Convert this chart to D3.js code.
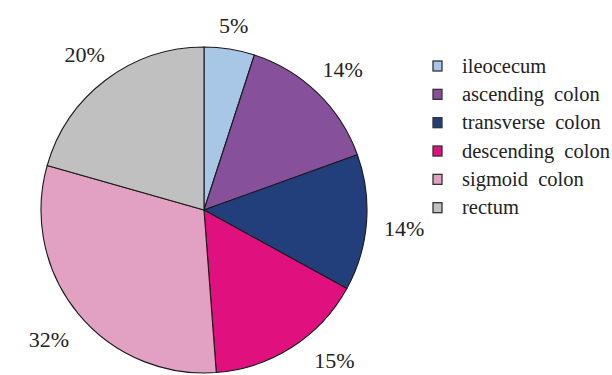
<!DOCTYPE html>
<html>
<head>
<meta charset="utf-8">
<script src="https://cdn.jsdelivr.net/npm/d3@7"></script>
<style>
  body { margin: 0; background: #fff; }
  svg { display: block; }
</style>
</head>
<body>
<div id="chart"></div>
<script>
// segment names (legend order = slice order, clockwise from 12 o'clock)
const segments = ["ileocecum", "ascending colon", "transverse colon", "descending colon", "sigmoid colon", "rectum"];
// slice sizes as drawn in the picture (percent)
const shares = [5.0, 14.5, 13.5, 15.8, 30.6, 20.6];
// printed labels
const pctLabels = ["5%", "14%", "14%", "15%", "32%", "20%"];
const colors = ["#a8c7e7", "#86509b", "#223f7b", "#e0117f", "#e2a1c3", "#c0c0c0"];

var width = 612, height = 375;
var cx = 204, cy = 210, radius = 163;
var serif = "Liberation Serif";

var svg = d3.select("#chart")
    .append("svg")
    .attr("width", width)
    .attr("height", height)
    .attr("font-family", serif);

var data = segments.map((s, i) => ({name: s, value: shares[i], label: pctLabels[i], color: colors[i]}));

var pie = d3.pie()
    .sort(null)
    .value(d => d.value);

var arc = d3.arc()
    .innerRadius(0)
    .outerRadius(radius);

var arcs = pie(data);

var g = svg.append("g")
    .attr("transform", "translate(" + cx + "," + cy + ")");

g.selectAll("path")
    .data(arcs)
    .enter()
    .append("path")
    .attr("d", arc)
    .attr("fill", d => d.data.color)
    .attr("stroke", "#1a1a1a")
    .attr("stroke-width", 1.1)
    .attr("stroke-linejoin", "round");

// labels outside, box edge kept at a fixed gap from the rim
var fontSize = 22, gap = 17;
var maxY = height - cy - 17;
g.selectAll("text.pct")
    .data(arcs)
    .enter()
    .append("text")
    .attr("class", "pct")
    .attr("font-size", fontSize)
    .attr("fill", "#222")
    .attr("text-anchor", "middle")
    .attr("dominant-baseline", "central")
    .text(d => d.data.label)
    .each(function(d) {
        var a = (d.startAngle + d.endAngle) / 2;
        var w = this.getComputedTextLength();
        var h = fontSize * 0.68;
        var r = radius + gap + Math.abs(Math.sin(a)) * w / 2 + Math.abs(Math.cos(a)) * h / 2;
        var x = Math.sin(a) * r, y = -Math.cos(a) * r;
        // keep inside the bottom edge by sliding along the label circle
        if (y > maxY) {
            y = maxY;
            x = Math.sign(x) * Math.sqrt(r * r - y * y);
        }
        d3.select(this)
            .attr("x", x)
            .attr("y", y + 2.5);
    });

// legend
var legendY = d3.scalePoint()
    .domain(segments)
    .range([66, 207.7]);

var legend = svg.append("g")
    .selectAll("g")
    .data(data)
    .enter()
    .append("g")
    .attr("transform", d => "translate(433," + legendY(d.name) + ")");

legend.append("rect")
    .attr("x", 0)
    .attr("y", -5)
    .attr("width", 9)
    .attr("height", 10)
    .attr("fill", d => d.color)
    .attr("stroke", "#333")
    .attr("stroke-width", 1.3);

legend.append("text")
    .attr("x", 29)
    .attr("y", 6.5)
    .attr("font-size", 20.5)
    .attr("fill", "#222")
    .attr("word-spacing", 5)
    .text(d => d.name);
</script>
</body>
</html>
